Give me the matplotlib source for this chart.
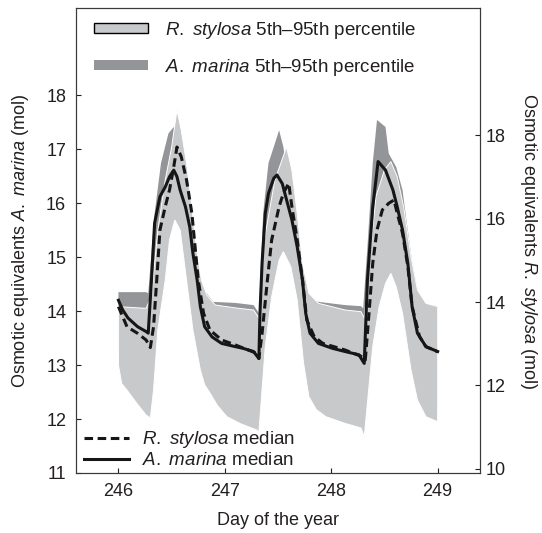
#!/usr/bin/env python

import numpy as np
import matplotlib
matplotlib.use("Agg")
from matplotlib import pyplot as plt
from matplotlib.patches import Patch
from matplotlib.lines import Line2D

plt.rcParams['font.family'] = ['Liberation Sans', 'DejaVu Sans']
plt.rcParams['mathtext.fontset'] = 'custom'
plt.rcParams['mathtext.rm'] = 'Liberation Sans'
plt.rcParams['mathtext.it'] = 'Liberation Sans:italic'

# A. marina median (left axis, mol)
am_med_day = [246.00, 246.04, 246.09, 246.18, 246.26, 246.28, 246.31, 246.34, 246.39, 246.44,
              246.48, 246.52, 246.55, 246.58, 246.63, 246.67, 246.70, 246.74, 246.77, 246.81,
              246.88, 246.97, 247.10, 247.17, 247.27, 247.32, 247.33, 247.35, 247.38, 247.41,
              247.46, 247.49, 247.54, 247.58, 247.63, 247.68, 247.73, 247.76, 247.80, 247.88,
              248.01, 248.13, 248.26, 248.31, 248.34, 248.39, 248.42, 248.44, 248.51, 248.58,
              248.62, 248.67, 248.72, 248.76, 248.81, 248.89, 249.00]
am_med = [14.20, 14.02, 13.87, 13.71, 13.62, 13.59, 14.57, 15.63, 16.12, 16.30,
          16.49, 16.61, 16.49, 16.24, 15.93, 15.56, 15.07, 14.57, 14.08, 13.71,
          13.52, 13.40, 13.34, 13.31, 13.25, 13.12, 13.96, 14.89, 15.81, 16.18,
          16.46, 16.52, 16.36, 16.06, 15.69, 15.19, 14.57, 13.96, 13.59, 13.40,
          13.31, 13.25, 13.19, 13.03, 14.57, 15.93, 16.43, 16.77, 16.61, 16.24,
          15.93, 15.50, 14.88, 14.08, 13.59, 13.34, 13.25]

# R. stylosa median (right axis, mol)
rs_med_day = [246.00, 246.08, 246.18, 246.26, 246.30, 246.33, 246.36, 246.39, 246.44, 246.48,
              246.52, 246.55, 246.59, 246.64, 246.69, 246.72, 246.75, 246.80, 246.86, 246.97,
              247.10, 247.30, 247.32, 247.35, 247.40, 247.44, 247.51, 247.55, 247.60, 247.63,
              247.68, 247.73, 247.77, 247.84, 247.92, 248.13, 248.29, 248.32, 248.35, 248.39,
              248.43, 248.48, 248.54, 248.59, 248.62, 248.67, 248.72, 248.76, 248.83, 248.89,
              249.00]
rs_med = [13.89, 13.41, 13.25, 13.09, 12.91, 13.41, 14.53, 15.73, 16.29, 16.69,
          17.25, 17.72, 17.49, 16.93, 16.13, 15.33, 14.53, 13.73, 13.33, 13.09,
          12.97, 12.77, 12.65, 13.25, 14.53, 15.49, 16.29, 16.61, 16.85, 16.29,
          15.49, 14.53, 13.57, 13.17, 13.01, 12.85, 12.69, 12.61, 13.57, 14.93,
          15.73, 16.21, 16.37, 16.45, 16.13, 15.65, 14.85, 13.89, 13.17, 12.93,
          12.81]

# R. stylosa 95th percentile (right axis)
rs_hi_day = [246.00, 246.26, 246.31, 246.37, 246.44, 246.50, 246.55, 246.59, 246.64, 246.69,
             246.73, 246.78, 246.83, 246.91, 247.10, 247.27, 247.32, 247.36, 247.47, 247.58,
             247.63, 247.68, 247.73, 247.79, 247.88, 248.13, 248.28, 248.31, 248.36, 248.42,
             248.50, 248.56, 248.62, 248.68, 248.75, 248.81, 248.89, 249.00]
rs_hi = [13.89, 13.85, 14.13, 15.73, 16.93, 17.72, 18.61, 18.13, 17.33, 16.29,
         15.33, 14.53, 14.17, 13.93, 13.86, 13.81, 13.62, 15.33, 16.93, 17.72,
         17.17, 16.13, 14.93, 14.21, 13.97, 13.81, 13.77, 13.62, 15.01, 16.53,
         17.17, 17.37, 17.01, 16.29, 15.09, 14.29, 13.97, 13.89]

# R. stylosa 5th percentile (right axis)
rs_lo_day = [246.00, 246.03, 246.08, 246.17, 246.26, 246.30, 246.33, 246.37, 246.44, 246.48,
             246.53, 246.58, 246.64, 246.70, 246.77, 246.81, 246.86, 246.93, 247.02, 247.15,
             247.30, 247.32, 247.38, 247.44, 247.51, 247.55, 247.62, 247.68, 247.74, 247.79,
             247.86, 247.95, 248.13, 248.28, 248.31, 248.39, 248.45, 248.51, 248.56, 248.61,
             248.67, 248.75, 248.81, 248.89, 249.00]
rs_lo = [12.49, 12.05, 11.89, 11.58, 11.29, 11.22, 11.89, 13.33, 14.53, 15.49,
         15.97, 15.73, 14.53, 13.33, 12.37, 12.02, 11.82, 11.52, 11.25, 11.08,
         10.93, 10.88, 12.93, 14.13, 15.01, 15.21, 14.85, 14.05, 12.53, 11.73,
         11.42, 11.25, 11.09, 10.98, 10.77, 12.93, 13.89, 14.45, 14.69, 14.37,
         13.73, 12.37, 11.65, 11.25, 11.13]

# A. marina 95th percentile (left axis)
am_hi_day = [246.00, 246.26, 246.28, 246.34, 246.40, 246.47, 246.52, 246.56, 246.63, 246.70,
             246.77, 246.89, 247.10, 247.27, 247.32, 247.36, 247.41, 247.46, 247.51, 247.55,
             247.59, 247.65, 247.71, 247.79, 247.88, 248.13, 248.28, 248.30, 248.34, 248.39,
             248.43, 248.51, 248.54, 248.61, 248.67, 248.70, 248.76, 248.82, 248.89, 249.00]
am_hi = [14.35, 14.35, 14.33, 15.81, 16.74, 17.29, 17.41, 16.98, 16.33, 15.59,
         14.48, 14.17, 14.15, 14.11, 13.96, 15.81, 16.74, 17.04, 17.35, 17.04,
         16.52, 15.78, 14.76, 14.20, 14.17, 14.11, 14.09, 14.05, 15.19, 16.74,
         17.54, 17.41, 16.92, 16.67, 16.24, 15.78, 14.91, 14.30, 14.13, 14.09]

# A. marina 5th percentile (left axis)
am_lo_day = [246.00, 246.08, 246.17, 246.26, 246.30, 246.33, 246.37, 246.44, 246.48, 246.53,
             246.58, 246.64, 246.70, 246.77, 246.86, 247.02, 247.30, 247.32, 247.38, 247.44,
             247.51, 247.55, 247.62, 247.68, 247.74, 247.79, 247.95, 248.13, 248.28, 248.31,
             248.39, 248.45, 248.51, 248.56, 248.61, 248.67, 248.75, 248.81, 248.89, 249.00]
am_lo = [13.19, 12.72, 12.48, 12.26, 12.20, 12.72, 13.83, 14.76, 15.50, 15.96,
         15.69, 14.76, 13.83, 13.09, 12.67, 12.23, 11.98, 11.94, 13.52, 14.45,
         15.13, 15.28, 15.00, 14.39, 13.22, 12.59, 12.22, 12.11, 12.02, 11.85,
         13.52, 14.26, 14.70, 14.89, 14.63, 14.15, 13.09, 12.54, 12.22, 12.13]

light = '#c8c9cb'
dark = '#939598'
ink = '#231f20'
line_col = '#161616'

fig = plt.figure(figsize=(5.42, 5.33), dpi=100)
ax = fig.add_axes([0.140, 0.1126, 0.746, 0.872])
ax2 = ax.twinx()

# A. marina band on the left axis
ax.fill(np.r_[am_hi_day, am_lo_day[::-1]], np.r_[am_hi, am_lo[::-1]],
        facecolor=dark, edgecolor='none')

# R. stylosa band on the right axis, drawn over it
ax2.fill(np.r_[rs_hi_day, rs_lo_day[::-1]], np.r_[rs_hi, rs_lo[::-1]],
         facecolor=light, edgecolor='white', linewidth=0.7)

# medians on top (A. marina uses left-axis scale)
ax2.plot(am_med_day, am_med, color=line_col, lw=2.2, transform=ax.transData)
ax2.plot(rs_med_day, rs_med, color=line_col, lw=2.2, dashes=(2.8, 1.5))

ax.set_xlim(245.6, 249.4)
ax.set_ylim(11, 19.61)
ax2.set_ylim(9.9, 21.05)
ax.set_xticks([246, 247, 248, 249])
ax.set_yticks(range(11, 19))
ax2.set_yticks(range(10, 19, 2))

for a in (ax, ax2):
    a.tick_params(direction='in', length=3.5, width=0.8, labelsize=13, colors=ink)
    for s in a.spines.values():
        s.set_linewidth(0.8)
        s.set_color('#3a3a3a')
ax.tick_params(axis='y', pad=7)
ax.tick_params(axis='x', pad=7)
ax2.tick_params(axis='y', pad=4)

ax.set_xlabel("Day of the year", fontsize=13, color=ink, labelpad=9)
ax.set_ylabel(r"Osmotic equivalents $\mathit{A.}$ $\mathit{marina}$ (mol)", fontsize=13,
              color=ink, labelpad=11)
ax2.set_ylabel(r"Osmotic equivalents $\mathit{R.}$ $\mathit{stylosa}$ (mol)", fontsize=13,
               color=ink, rotation=270, labelpad=24)

top_handles = [Patch(facecolor=light, edgecolor='black', linewidth=1.0),
               Patch(facecolor=dark, edgecolor='none')]
leg1 = ax2.legend(top_handles,
                  [r"$\mathit{R.}$ $\mathit{stylosa}$ 5th–95th percentile",
                   r"$\mathit{A.}$ $\mathit{marina}$ 5th–95th percentile"],
                  loc='upper left', bbox_to_anchor=(0.045, 0.975), frameon=False,
                  fontsize=13.5, handlelength=2.9, handleheight=0.4,
                  handletextpad=0.9, labelspacing=0.85, borderpad=0, borderaxespad=0)
leg1.set_zorder(5)
for t in leg1.get_texts():
    t.set_color(ink)
ax2.add_artist(leg1)

bottom_handles = [Line2D([], [], color=line_col, lw=2.2, dashes=(2.8, 1.5)),
                  Line2D([], [], color=line_col, lw=2.2)]
leg2 = ax2.legend(bottom_handles,
                  [r"$\mathit{R.}$ $\mathit{stylosa}$ median",
                   r"$\mathit{A.}$ $\mathit{marina}$ median"],
                  loc='lower left', bbox_to_anchor=(0.02, 0.008), frameon=False,
                  fontsize=13.5, handlelength=2.4, handletextpad=0.7,
                  labelspacing=0.1, borderpad=0, borderaxespad=0)
for t in leg2.get_texts():
    t.set_color(ink)

fig.savefig("out.png", dpi=100)
